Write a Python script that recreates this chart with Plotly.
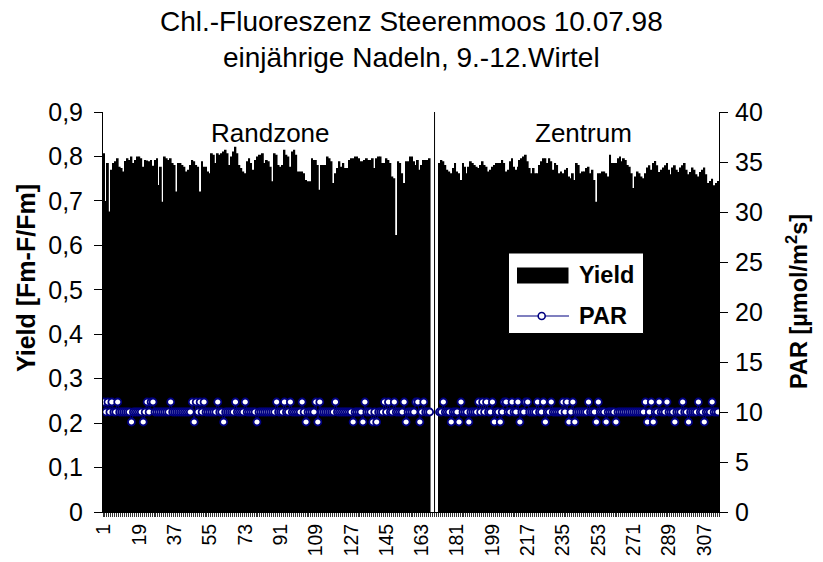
import plotly.graph_objects as go

# ---- data -------------------------------------------------------------
# Yield (Fm-F/Fm) per measurement, Randzone (no. 1-167)
yield_randzone = [
    .807, .700, .785, .676, .770, .785, .789, .796, .777, .774, .766, .790, .796, .792, .800, .785, .792, .800, .800, .796,
    .777, .792, .791, .789, .792, .779, .792, .796, .736, .777, .698, .800, .796, .792, .796, .785, .781, .721, .785, .785,
    .781, .777, .766, .770, .781, .792, .789, .781, .777, .721, .789, .777, .777, .766, .762, .807, .804, .785, .807, .804,
    .807, .811, .815, .807, .781, .800, .811, .822, .807, .781, .774, .766, .762, .789, .796, .785, .770, .792, .800, .804,
    .804, .807, .785, .792, .789, .777, .744, .807, .804, .781, .777, .781, .815, .804, .800, .777, .811, .815, .804, .766,
    .766, .766, .762, .747, .744, .744, .796, .792, .792, .781, .725, .781, .781, .781, .800, .796, .789, .740, .762, .774,
    .789, .777, .785, .774, .774, .792, .796, .796, .800, .800, .796, .789, .789, .792, .796, .792, .792, .796, .774, .796,
    .800, .800, .785, .785, .796, .792, .785, .755, .751, .623, .789, .785, .762, .740, .789, .789, .800, .800, .789, .781,
    .792, .770, .781, .792, .792, .792, .796,
]
# empty positions between the two zones (no. 168-171)
n_gap = 4
# Yield per measurement, Zentrum (no. 172-314)
yield_zentrum = [
    .785, .792, .789, .781, .770, .766,
    .762, .774, .785, .766, .762, .747, .785, .777, .762, .777, .789, .785, .781, .777, .774, .781, .789, .781, .777, .766,
    .770, .777, .781, .785, .785, .785, .792, .785, .766, .770, .789, .796, .777, .770, .777, .792, .796, .800, .804, .789,
    .774, .762, .774, .762, .762, .781, .789, .796, .796, .785, .796, .789, .770, .785, .781, .762, .766, .762, .770, .774,
    .755, .751, .762, .747, .785, .781, .762, .766, .766, .774, .777, .762, .770, .747, .698, .762, .762, .766, .766, .762,
    .755, .804, .785, .785, .785, .796, .800, .789, .796, .792, .781, .777, .762, .729, .755, .766, .762, .755, .751, .762,
    .775, .780, .770, .785, .790, .780, .765, .770, .775, .780, .785, .770, .760, .775, .780, .770, .765, .775, .780, .785,
    .770, .760, .765, .775, .770, .760, .755, .765, .770, .775, .760, .740, .745, .750, .735, .740, .745,
]

# PAR (µmol/m²s) per measurement, no. 1-314
par_values = [
    11, 10, 11, 10, 11, 10, 10, 11, 10, 10, 10, 10, 10, 10, 9, 10, 10, 10, 10, 10,
    9, 10, 11, 10, 11, 11, 10, 10, 10, 10, 10, 10, 10, 10, 11, 10, 10, 10, 10, 10,
    10, 10, 10, 10, 10, 11, 9, 11, 10, 11, 10, 11, 10, 10, 10, 10, 10, 10, 11, 10,
    10, 9, 10, 10, 10, 10, 10, 11, 10, 10, 10, 10, 11, 10, 10, 10, 10, 10, 9, 10,
    10, 10, 10, 10, 10, 10, 10, 10, 11, 10, 10, 10, 11, 10, 10, 11, 10, 10, 10, 10,
    10, 11, 10, 9, 10, 10, 10, 10, 11, 9, 11, 10, 10, 10, 10, 10, 10, 10, 11, 10,
    10, 10, 10, 10, 10, 10, 10, 9, 10, 10, 10, 10, 9, 11, 10, 10, 10, 9, 10, 9,
    10, 10, 10, 11, 10, 11, 10, 10, 11, 10, 10, 10, 10, 11, 9, 10, 10, 10, 10, 11,
    11, 9, 10, 11, 10, 10, 10, None, None, None, None, 10, 10, 11, 10, 10, 10, 9, 10, 10,
    10, 9, 11, 10, 10, 10, 9, 10, 10, 10, 10, 11, 10, 11, 10, 11, 10, 10, 11, 9,
    10, 10, 9, 10, 11, 11, 10, 10, 11, 10, 10, 11, 9, 10, 10, 11, 11, 10, 10, 10,
    10, 11, 10, 10, 11, 9, 10, 10, 11, 10, 10, 10, 10, 10, 11, 10, 11, 9, 10, 11,
    9, 10, 10, 10, 10, 10, 10, 11, 10, 10, 10, 9, 11, 10, 10, 10, 9, 10, 10, 10,
    10, 9, 10, 10, 10, 10, 10, 10, 10, 10, 10, 10, 10, 10, 10, 10, 11, 9, 10, 11,
    9, 10, 10, 11, 10, 10, 10, 11, 10, 10, 10, 9, 10, 10, 10, 11, 10, 10, 9, 10,
    10, 10, 10, 11, 10, 10, 9, 10, 10, 10, 11, 10, 10, 10,
]

yield_values = yield_randzone + [None] * n_gap + yield_zentrum
measurements = list(range(1, len(yield_values) + 1))
separator_at = len(yield_randzone) + n_gap / 2 + 0.5   # middle of the empty block

x_tickvals = list(range(1, len(measurements) + 1, 18))
x_ticktext = [str(v) for v in x_tickvals]
y_tickvals = [0, .1, .2, .3, .4, .5, .6, .7, .8, .9]
y_ticktext = ["0", "0,1", "0,2", "0,3", "0,4", "0,5", "0,6", "0,7", "0,8", "0,9"]
y2_tickvals = [0, 5, 10, 15, 20, 25, 30, 35, 40]

zone_labels = ["Randzone", "Zentrum"]
title_lines = ["Chl.-Fluoreszenz Steerenmoos 10.07.98", "einjährige Nadeln, 9.-12.Wirtel"]

# ---- geometry of the plot area (pixels) --------------------------------
W, H = 823, 562
L, R, T, B = 103, 719, 112, 512
FONT = "Liberation Sans, Arial, sans-serif"
NAVY = "#000080"


def px(x):
    return (x - L) / (R - L)


def py(y):
    return (B - y) / (B - T)


fig = go.Figure()

fig.add_trace(go.Bar(
    x=measurements, y=yield_values, name="Yield",
    marker=dict(color="black", line=dict(width=0)),
    showlegend=False,
))

fig.add_trace(go.Scatter(
    x=measurements, y=par_values, name="PAR", yaxis="y2",
    mode="lines+markers",
    line=dict(color=NAVY, width=1),
    marker=dict(symbol="circle", size=7, color="white", line=dict(color=NAVY, width=1.8)),
    connectgaps=False,
    showlegend=False,
))

fig.update_layout(
    width=W, height=H,
    margin=dict(l=L, r=W - R, t=T, b=H - B, pad=0, autoexpand=False),
    paper_bgcolor="white", plot_bgcolor="white",
    font=dict(family=FONT, color="black", size=24),
    bargap=0.07,
    xaxis=dict(
        range=[0.5, len(measurements) + 0.5], automargin=False,
        tickmode="array", tickvals=x_tickvals, ticktext=x_ticktext,
        tickangle=-90, tickfont=dict(size=19.5), ticklabelstandoff=3,
        ticks="", showgrid=False, zeroline=False,
        showline=True, linecolor="black", linewidth=1,
        minor=dict(tickmode="linear", tick0=0.5, dtick=1, ticks="outside",
                   ticklen=4, tickwidth=1, tickcolor="#333333", showgrid=False),
    ),
    yaxis=dict(
        range=[0, 0.9], automargin=False, tickmode="array", tickvals=y_tickvals, ticktext=y_ticktext,
        tickfont=dict(size=25), ticks="outside", ticklen=8, tickcolor="black",
        ticklabelstandoff=6,
        showgrid=False, zeroline=False, showline=True, linecolor="black", linewidth=1,
    ),
    yaxis2=dict(
        range=[0, 40], automargin=False, overlaying="y", side="right", tickmode="array",
        tickvals=y2_tickvals,
        tickfont=dict(size=25), ticks="outside", ticklen=8, tickcolor="black",
        ticklabelstandoff=2,
        showgrid=False, zeroline=False, showline=True, linecolor="black", linewidth=1,
    ),
)

# boundary between the two zones
fig.add_shape(type="line", xref="x", yref="y", x0=separator_at, x1=separator_at, y0=0, y1=0.9,
              line=dict(color="black", width=1))

annotations = [
    dict(text=title_lines[0], x=px(411), y=py(22), font=dict(size=28)),
    dict(text=title_lines[1], x=px(411), y=py(57), font=dict(size=28)),
    dict(text=zone_labels[0], x=px(270), y=py(133), font=dict(size=26)),
    dict(text=zone_labels[1], x=px(583), y=py(133), font=dict(size=26)),
    dict(text="<b>Yield [Fm-F/Fm]</b>", x=px(26), y=py(278), textangle=-90, font=dict(size=25)),
    dict(text="<b>PAR [µmol/m<sup>2</sup>s]</b>", x=px(797), y=py(302), textangle=-90, font=dict(size=23.5)),
    dict(text="<b>Yield</b>", x=px(577), y=py(275), xanchor="left", font=dict(size=23.5)),
    dict(text="<b>PAR</b>", x=px(577), y=py(316), xanchor="left", font=dict(size=23.5)),
]
for a in annotations:
    a.setdefault("xanchor", "center")
    fig.add_annotation(xref="paper", yref="paper", yanchor="middle", showarrow=False, **a)

# legend box with its two keys
fig.add_shape(type="rect", xref="paper", yref="paper", x0=px(508.5), x1=px(643.5), y0=py(253), y1=py(333.5),
              fillcolor="white", line=dict(color="black", width=1), layer="above")
fig.add_shape(type="rect", xref="paper", yref="paper", x0=px(517), x1=px(568.5), y0=py(267.5), y1=py(283.5),
              fillcolor="black", line=dict(width=0), layer="above")
fig.add_shape(type="line", xref="paper", yref="paper", x0=px(517), x1=px(569), y0=py(316), y1=py(316),
              line=dict(color=NAVY, width=1.2), layer="above")
fig.add_shape(type="circle", xref="paper", yref="paper", x0=px(538.2), x1=px(545.2), y0=py(312.5), y1=py(319.5),
              fillcolor="white", line=dict(color=NAVY, width=1.6), layer="above")

fig.write_html("out.html")
